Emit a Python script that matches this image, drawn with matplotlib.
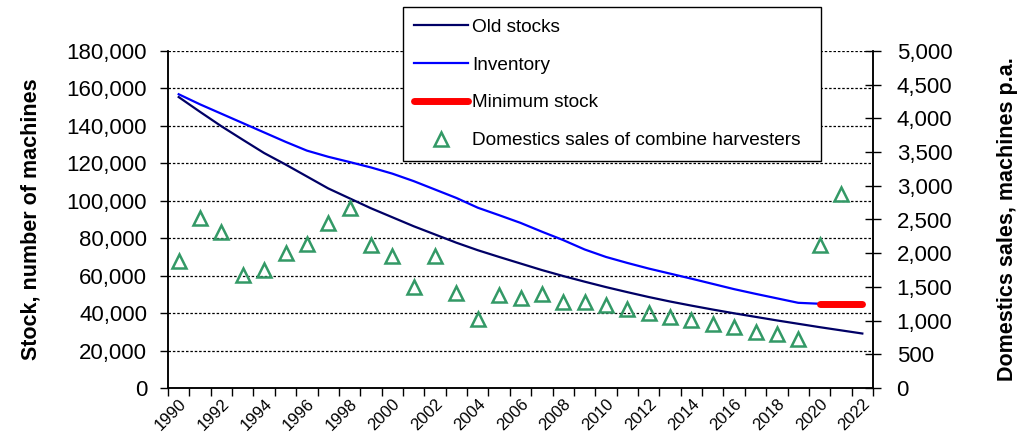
import numpy as np
import matplotlib
matplotlib.use("Agg")
import matplotlib.pyplot as plt
from matplotlib.ticker import FuncFormatter, FixedLocator

plt.rcParams["font.family"] = ["Liberation Sans", "DejaVu Sans"]

years = list(range(1990, 2023))

old_stocks = [155400, 147500, 139800, 132600, 125500, 119400, 113000, 106600,
              101300, 96000, 91200, 86400, 82000, 77600, 73600, 70000, 66500,
              63000, 59800, 56800, 53900, 51200, 48600, 46200, 44000, 41900,
              39900, 38000, 36100, 34300, 32500, 30800, 29100]

inv_years = list(range(1990, 2021))
inventory = [156900, 151500, 146500, 141500, 136500, 131500, 126800, 123500,
             120700, 117800, 114500, 110500, 106000, 101500, 96300, 92300,
             88200, 83500, 79000, 74000, 70000, 66800, 63800, 61100, 58400,
             55600, 52800, 50300, 47900, 45500, 45000]

min_years = [2020, 2021, 2022]
min_stock = [45000, 45000, 45000]

sales_years = list(range(1990, 2022))
sales = [1880, 2520, 2320, 1670, 1750, 2000, 2140, 2450, 2670, 2120, 1960,
         1500, 1960, 1410, 1020, 1380, 1340, 1390, 1275, 1280, 1230, 1165,
         1115, 1055, 1010, 950, 910, 835, 795, 720, 2120, 2875]


def thousands(v, pos):
    return f"{v:,.0f}"


fig = plt.figure(figsize=(10.24, 4.48), dpi=100)
ax = fig.add_axes([168 / 1024, 1 - 388 / 448, 705 / 1024, 337 / 448])
ax2 = ax.twinx()

l1, = ax.plot(years, old_stocks, color="#000066", lw=1.6, label="Old stocks")
l2, = ax.plot(inv_years, inventory, color="#0000ff", lw=1.6, label="Inventory")
l3, = ax.plot(min_years, min_stock, color="#ff0000", lw=5,
              solid_capstyle="round", label="Minimum stock")
s1, = ax2.plot(sales_years, sales, ls="none", marker="^", ms=10, mfc="none",
               mec="#339966", mew=1.8,
               label="Domestics sales of combine harvesters")

ax.set_xlim(1989.5, 2022.5)
ax.set_ylim(0, 180000)
ax2.set_ylim(0, 5000)

ax.set_yticks(np.arange(0, 180001, 20000))
ax2.set_yticks(np.arange(0, 5001, 500))
ax.yaxis.set_major_formatter(FuncFormatter(thousands))
ax2.yaxis.set_major_formatter(FuncFormatter(thousands))

# ticks between years, labels on every second year
ax.xaxis.set_major_locator(FixedLocator(np.arange(1989.5, 2023, 1)))
ax.xaxis.set_major_formatter(FuncFormatter(lambda v, p: ""))
ax.xaxis.set_minor_locator(FixedLocator(years[::2]))
ax.xaxis.set_minor_formatter(FuncFormatter(lambda v, p: f"{int(round(v))}"))
ax.tick_params(axis="x", which="major", length=6, width=1, direction="out")
ax.tick_params(axis="x", which="minor", length=0, labelsize=12, pad=6)
for lab in ax.xaxis.get_minorticklabels():
    lab.set_rotation(45)
    lab.set_ha("right")
    lab.set_va("top")
    lab.set_rotation_mode("anchor")

ax.tick_params(axis="y", labelsize=16, length=6, width=1, direction="out", pad=9)
ax2.tick_params(axis="y", labelsize=16, length=12, width=1, direction="inout", pad=11)

for t in ax.get_yticks()[1:]:
    ax.axhline(t, color="black", lw=0.9, ls=(0, (2, 1.5)), zorder=0.5)

for a in (ax, ax2):
    a.spines["top"].set_visible(False)
    for s in ("left", "right", "bottom"):
        a.spines[s].set_linewidth(1.1)

ax.set_ylabel("Stock, number of machines", fontsize=15.5, fontweight="bold")
ax.yaxis.set_label_coords(-0.18, 0.5)
ax2.set_ylabel("Domestics sales, machines p.a.", fontsize=15.5, fontweight="bold")
ax2.yaxis.set_label_coords(1.176, 0.5)

leg = fig.legend(handles=[l1, l2, l3, s1], loc="upper left",
                 bbox_to_anchor=(403 / 1024, 1 - 156 / 448, 418 / 1024, 149 / 448),
                 mode="expand", fontsize=13.7, frameon=True, fancybox=False,
                 edgecolor="black", framealpha=1, borderpad=0.6,
                 labelspacing=1.08, handlelength=2.8, handletextpad=0.25,
                 borderaxespad=0)
leg.get_frame().set_linewidth(1.0)

fig.savefig("out.png", dpi=100)
